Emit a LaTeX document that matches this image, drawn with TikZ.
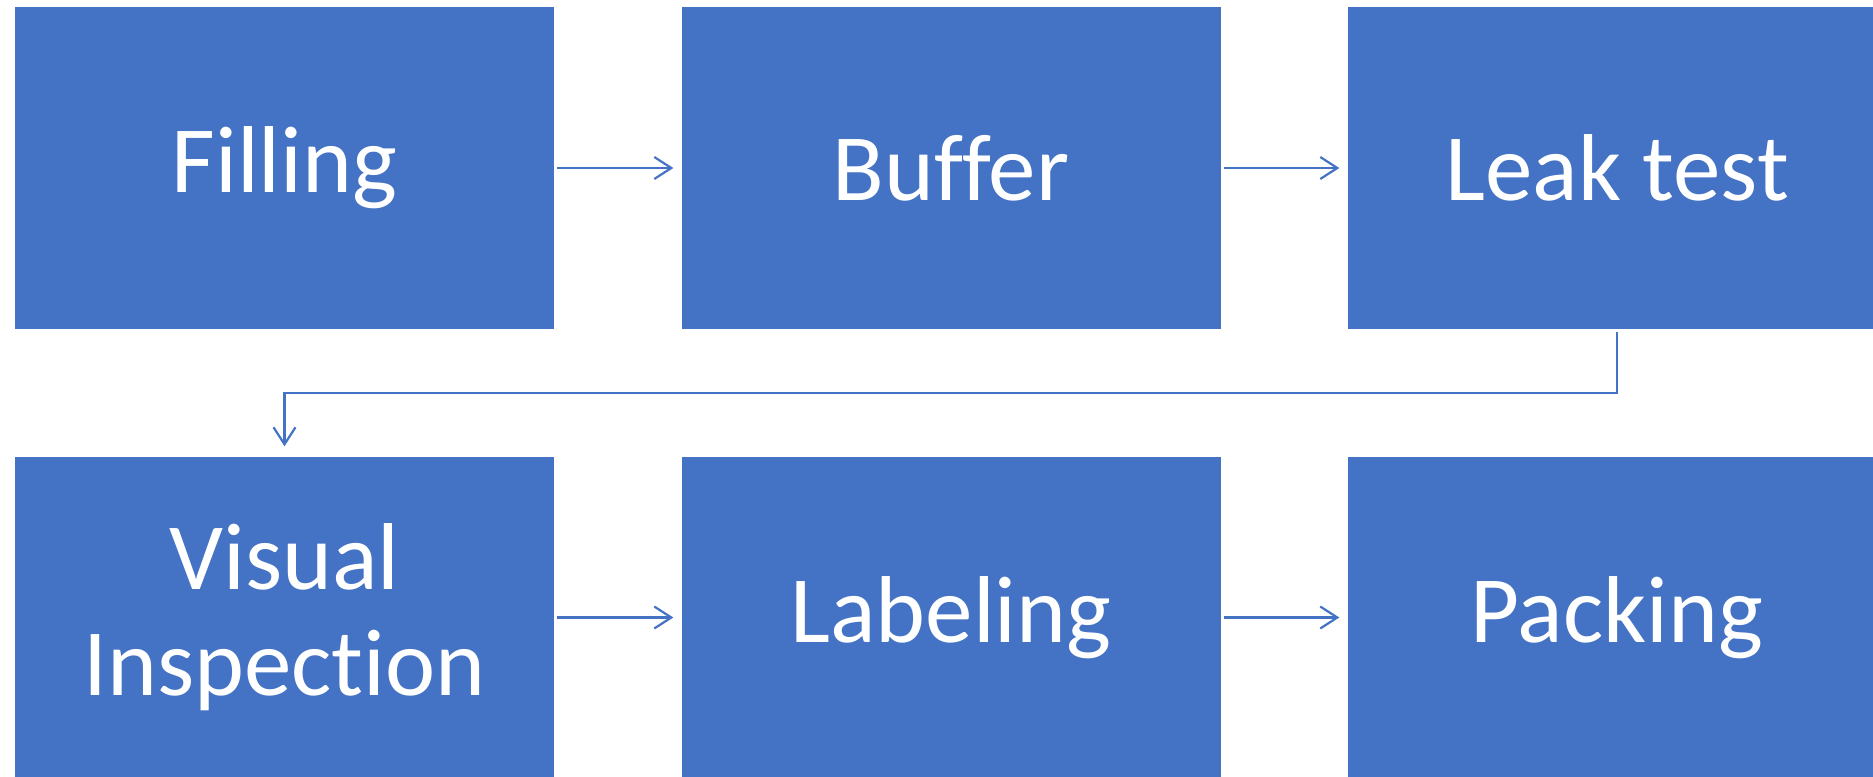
\documentclass[tikz,border=0pt]{standalone}
\usepackage{fontspec}
\setmainfont{Carlito}[Ligatures={NoCommon}]
\usetikzlibrary{arrows.meta}
\definecolor{obox}{HTML}{4472C4}
\tikzset{
  x=1pt, y=1pt,
  stepbox/.style={rectangle, fill=obox, draw=none, inner sep=0pt,
    minimum width=539pt, minimum height=322pt, text=white, align=center,
    font=\fontsize{95}{106}\selectfont},
  arr/.style={draw=obox, line width=2.2pt, -{Straight Barb[length=17pt,width=22pt,line width=2.2pt]},
    shorten <=3pt, shorten >=8pt},
}
\begin{document}
\begin{tikzpicture}
\useasboundingbox (0,0) rectangle (1873,-776);
\node[stepbox] (b1) at (284.5,-168) {Filling};
\node[stepbox] (b2) at (951,-168) {Buffer};
\node[stepbox] (b3) at (1617,-168) {Leak test};
\node[stepbox] (b4) at (284.5,-617.5) {Visual\\Inspection};
\node[stepbox] (b5) at (951,-617.5) {Labeling};
\node[stepbox] (b6) at (1617,-617.5) {Packing};
\coordinate (m) at (0,-393);
\draw[arr] (b1) -- (b2);
\draw[arr] (b2) -- (b3);
\draw[arr] (b4) -- (b5);
\draw[arr] (b5) -- (b6);
\draw[arr, shorten >=10pt] (b3.south) -- (b3.south |- m) -| (b4.north);
\end{tikzpicture}
\end{document}
